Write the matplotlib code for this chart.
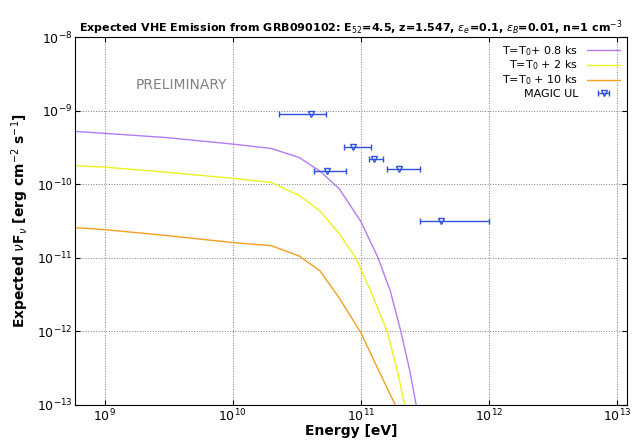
import matplotlib.pyplot as plt
import numpy as np

# model curves
e_08 = [5e8, 1e9, 3e9, 1e10, 2e10, 3.3e10, 4.8e10, 6.8e10, 1e11, 1.36e11, 1.7e11, 2.05e11, 2.4e11, 2.7e11]
f_08 = [5.3e-10, 4.9e-10, 4.3e-10, 3.5e-10, 3.05e-10, 2.3e-10, 1.5e-10, 8.6e-11, 3.1e-11, 1e-11, 3.5e-12, 1e-12, 3e-13, 1e-13]
e_2 = [5e8, 1e9, 3e9, 1e10, 2e10, 3.3e10, 4.8e10, 6.8e10, 9.1e10, 1.22e11, 1.6e11, 1.9e11, 2.2e11]
f_2 = [1.8e-10, 1.7e-10, 1.45e-10, 1.2e-10, 1.05e-10, 7e-11, 4.3e-11, 2.1e-11, 1e-11, 3.2e-12, 1e-12, 3.2e-13, 1e-13]
e_10 = [5e8, 1e9, 3e9, 1e10, 2e10, 3.3e10, 4.8e10, 6.8e10, 1e11, 1.3e11, 1.85e11, 2e11]
f_10 = [2.6e-11, 2.4e-11, 2.0e-11, 1.6e-11, 1.45e-11, 1.05e-11, 6.6e-12, 2.8e-12, 9.5e-13, 3.6e-13, 1e-13, 7e-14]

# MAGIC upper limits
ul_e = [4.1e10, 8.7e10, 1.27e11, 5.4e10, 2.0e11, 4.2e11]
ul_f = [8.9e-10, 3.2e-10, 2.2e-10, 1.5e-10, 1.6e-10, 3.1e-11]
ul_lo = [2.3e10, 7.4e10, 1.15e11, 4.3e10, 1.6e11, 2.9e11]
ul_hi = [5.3e10, 1.2e11, 1.5e11, 7.6e10, 2.9e11, 1.0e12]

fig = plt.figure(figsize=(6.38, 4.47), dpi=100)
ax = fig.add_axes([0.118, 0.095, 0.865, 0.822])
ax.plot(e_08, f_08, color="#b57cf0", lw=1, label=r"T=T$_0$+ 0.8 ks")
ax.plot(e_2, f_2, color="#f0f020", lw=1, label=r"T=T$_0$ + 2 ks")
ax.plot(e_10, f_10, color="#f5a020", lw=1, label=r"T=T$_0$ + 10 ks")
xerr = [np.array(ul_e) - np.array(ul_lo), np.array(ul_hi) - np.array(ul_e)]
ax.errorbar(ul_e, ul_f, xerr=xerr, fmt="v", mfc="none", mec="#3050e0", ecolor="#3050e0",
            ms=5, lw=1, capsize=2, label="MAGIC UL")
ax.set_xscale("log")
ax.set_yscale("log")
ax.set_xlim(5.9e8, 1.2e13)
ax.set_ylim(1e-13, 1e-8)
ax.grid(True, which="major", ls=":", color="gray", lw=0.7)
ax.minorticks_off()
ax.tick_params(labelsize=9, direction="in", which="both", top=True, right=True, pad=2)
ax.set_xlabel("Energy [eV]", fontsize=10, fontweight="bold", labelpad=0)
ax.set_ylabel(r"Expected $\nu$F$_\nu$ [erg cm$^{-2}$ s$^{-1}$]", fontsize=10, fontweight="bold")
ax.set_title(r"Expected VHE Emission from GRB090102: E$_{52}$=4.5, z=1.547, $\epsilon_e$=0.1, $\epsilon_B$=0.01, n=1 cm$^{-3}$",
             fontsize=8, fontweight="bold", pad=4)
ax.text(0.11, 0.86, "PRELIMINARY", transform=ax.transAxes, fontsize=10, color="gray")
leg = ax.legend(loc="upper right", fontsize=8, frameon=False, markerfirst=False,
                handlelength=3, labelspacing=0.1, borderaxespad=0.2)
fig.savefig("out.png", dpi=100)
